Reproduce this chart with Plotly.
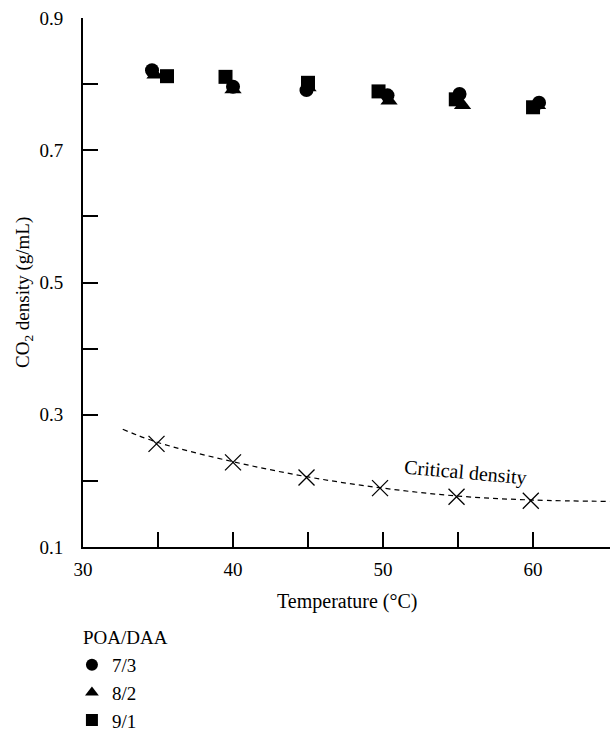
import plotly.graph_objects as go

# ---- data ----
x_tick_vals = [30, 35, 40, 45, 50, 55, 60]
x_tick_text = ["30", "", "40", "", "50", "", "60"]
y_tick_vals = [0.1, 0.2, 0.3, 0.4, 0.5, 0.6, 0.7, 0.8, 0.9]
y_tick_text = ["0.1", "", "0.3", "", "0.5", "", "0.7", "", "0.9"]

circle_x = [34.6, 40.0, 44.9, 50.3, 55.1, 60.4]
circle_y = [0.821, 0.796, 0.791, 0.783, 0.785, 0.772]
tri_x = [34.8, 40.0, 45.0, 50.4, 55.3, 60.3]
tri_y = [0.814, 0.792, 0.795, 0.775, 0.768, 0.768]
sq_x = [35.6, 39.5, 45.0, 49.7, 54.85, 60.0]
sq_y = [0.812, 0.811, 0.802, 0.789, 0.777, 0.765]

crit_x = [34.9, 40.0, 44.9, 49.8, 54.9, 59.85]
crit_y = [0.256, 0.228, 0.205, 0.189, 0.176, 0.170]
curve_x = [32.65, 35.0, 40.0, 45.0, 50.0, 55.0, 60.0, 65.2]
curve_y = [0.278, 0.258, 0.229, 0.206, 0.189, 0.177, 0.171, 0.169]

FONT = "Liberation Serif"
FS = 19

fig = go.Figure()

fig.add_trace(go.Scatter(
    x=curve_x, y=curve_y, mode="lines", line=dict(color="black", width=1.2, dash="5px,4px", shape="spline"),
    showlegend=False, hoverinfo="skip"))
fig.add_trace(go.Scatter(
    x=crit_x, y=crit_y, mode="markers",
    marker=dict(symbol="x-thin-open", size=16, color="black", line=dict(color="black", width=1.3)),
    showlegend=False))

fig.add_trace(go.Scatter(x=tri_x, y=tri_y, mode="markers", name="8/2", legendrank=2,
                         marker=dict(symbol="triangle-up", size=15, color="black")))
fig.add_trace(go.Scatter(x=circle_x, y=circle_y, mode="markers", name="7/3", legendrank=1,
                         marker=dict(symbol="circle", size=14, color="black")))
fig.add_trace(go.Scatter(x=sq_x, y=sq_y, mode="markers", name="9/1", legendrank=3,
                         marker=dict(symbol="square", size=14, color="black")))

fig.add_annotation(x=55.5, y=0.212, xref="x", yref="y", text="Critical density", showarrow=False,
                   textangle=5, font=dict(family=FONT, size=20, color="black"))
fig.add_annotation(x=0.5, y=(547 - 602) / 529, xref="paper", yref="paper", text="Temperature (°C)",
                   showarrow=False, xanchor="center", yanchor="middle",
                   font=dict(family=FONT, size=20, color="black"))
fig.add_annotation(x=(24 - 83) / 527, y=(547 - 293) / 529, xref="paper", yref="paper",
                   text="CO<sub>2</sub> density (g/mL)", textangle=-90,
                   showarrow=False, xanchor="center", yanchor="middle",
                   font=dict(family=FONT, size=FS, color="black"))
fig.add_annotation(x=-0.004, y=(547 - 637) / 529, xref="paper", yref="paper", text="POA/DAA",
                   showarrow=False, xanchor="left", yanchor="middle",
                   font=dict(family=FONT, size=FS, color="black"))

fig.update_layout(
    width=610, height=732,
    margin=dict(l=83, r=0, t=18, b=185, autoexpand=False),
    paper_bgcolor="white", plot_bgcolor="white",
    font=dict(family=FONT, size=FS, color="black"),
    showlegend=True,
    legend=dict(x=-0.021, y=-0.3646, xanchor="left", yanchor="bottom", bgcolor="rgba(0,0,0,0)",
                font=dict(family=FONT, size=FS, color="black"), itemsizing="constant",
                tracegroupgap=0),
    xaxis=dict(range=[30, 65.13], showgrid=False, zeroline=False, showline=True, linecolor="black",
               linewidth=2, ticks="inside", ticklen=15, tickwidth=1.5, tickcolor="black",
               tickvals=x_tick_vals, ticktext=x_tick_text, ticklabelstandoff=4, automargin=False,
               ticklabeloverflow="allow",
               tickfont=dict(family=FONT, size=FS, color="black")),
    yaxis=dict(range=[0.1, 0.9], showgrid=False, zeroline=False, showline=True, linecolor="black",
               linewidth=2, ticks="inside", ticklen=15, tickwidth=1.5, tickcolor="black",
               tickvals=y_tick_vals, ticktext=y_tick_text, ticklabelstandoff=14, automargin=False,
               ticklabeloverflow="allow",
               tickfont=dict(family=FONT, size=FS, color="black")),
)

fig.write_html("out.html", config={"displayModeBar": False},
               post_script="document.body.style.margin='0px';")
